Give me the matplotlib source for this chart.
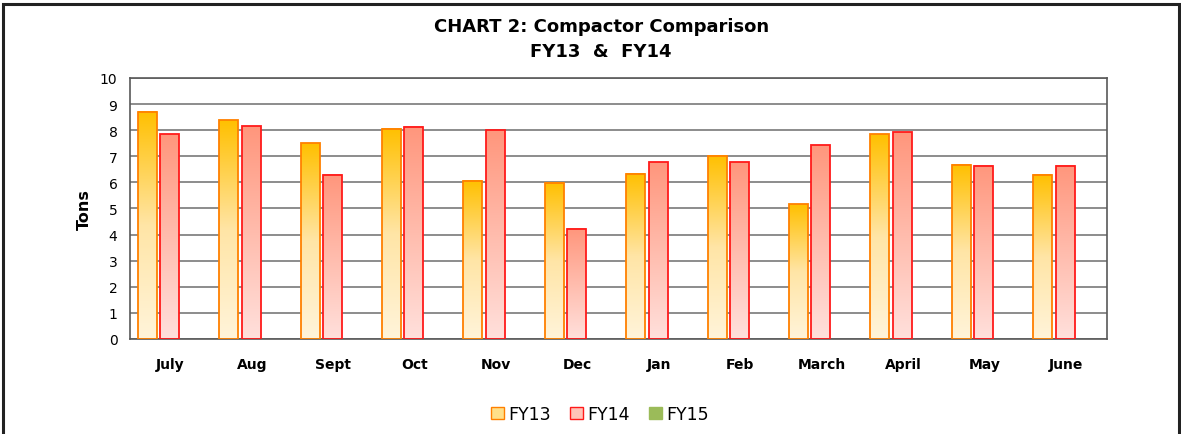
import numpy as np
import matplotlib
matplotlib.use('Agg')
import matplotlib.pyplot as plt
from matplotlib.colors import LinearSegmentedColormap
from matplotlib.patches import Patch, Rectangle

months = ['July', 'Aug', 'Sept', 'Oct', 'Nov', 'Dec', 'Jan', 'Feb', 'March', 'April', 'May', 'June']
fy13 = [8.71, 8.39, 7.50, 8.06, 6.07, 5.99, 6.33, 7.02, 5.16, 7.84, 6.68, 6.30]
fy14 = [7.84, 8.15, 6.30, 8.14, 8.00, 4.23, 6.77, 6.77, 7.42, 7.92, 6.64, 6.64]
fy15 = [0] * 12
series = ['FY13', 'FY14', 'FY15']

plt.rcParams['font.family'] = ['DejaVu Sans']

fig = plt.figure(figsize=(11.81, 4.35), dpi=100)
ax = fig.add_axes([0.110, 0.2184, 0.827, 0.600])

# outer chart border
fig.add_artist(Rectangle((3/1181, -0.05), 1176/1181, 1.05 - 5/435, transform=fig.transFigure,
                         fill=False, edgecolor='#222222', linewidth=2.2))

cmap13 = LinearSegmentedColormap.from_list('fy13', ['#FFC000', '#FFE5A6', '#FFF4DA'])
cmap14 = LinearSegmentedColormap.from_list('fy14', ['#FF967C', '#FFBCAD', '#FFE0DC'])
grad = np.linspace(0, 1, 256).reshape(-1, 1)

x = np.arange(len(months))
w = 0.233
offsets = [-0.285, -0.01, 0.265]

for vals, off, cm, ec in [(fy13, offsets[0], cmap13, '#FF8000'), (fy14, offsets[1], cmap14, '#FF1A1A')]:
    for xi, v in zip(x, vals):
        x0 = xi + off - w / 2
        ax.imshow(grad, extent=[x0, x0 + w, 0, v], aspect='auto', cmap=cm, zorder=2, origin='upper')
        ax.add_patch(Rectangle((x0, 0), w, v, facecolor='none', edgecolor=ec, linewidth=1.3, zorder=3))

ax.set_xlim(-0.5, len(months) - 0.5)
ax.set_ylim(0, 10)
ax.set_yticks(range(0, 11))
ax.set_xticks(x)
ax.set_xticklabels(months, fontweight='bold', fontsize=10)
ax.tick_params(axis='x', length=0, pad=13)
ax.tick_params(axis='y', length=0, pad=9, labelsize=10)
ax.yaxis.grid(True, color='#8C8C8C', linewidth=1.4, zorder=1)
ax.set_axisbelow(True)
for s in ax.spines.values():
    s.set_color('#595959')
    s.set_linewidth(1.2)
ax.set_ylabel('Tons', fontweight='bold', fontsize=11.5, labelpad=6)

fig.text(0.509, 0.937, 'CHART 2: Compactor Comparison', ha='center', va='center', fontsize=13, fontweight='bold')
fig.text(0.509, 0.880, 'FY13  &  FY14', ha='center', va='center', fontsize=13, fontweight='bold')

handles = [Patch(facecolor='#FFE08A', edgecolor='#FF8000'),
           Patch(facecolor='#FFC4B8', edgecolor='#FF1A1A'),
           Patch(facecolor='#9BBB59', edgecolor='#9BBB59')]
fig.legend(handles, series, loc='center', bbox_to_anchor=(0.508, 0.046), ncol=3, frameon=False,
           handlelength=0.75, handleheight=0.75, handletextpad=0.25, columnspacing=1.1,
           prop={'family': 'DejaVu Sans', 'size': 12.5})

fig.savefig('out.png', dpi=100)
